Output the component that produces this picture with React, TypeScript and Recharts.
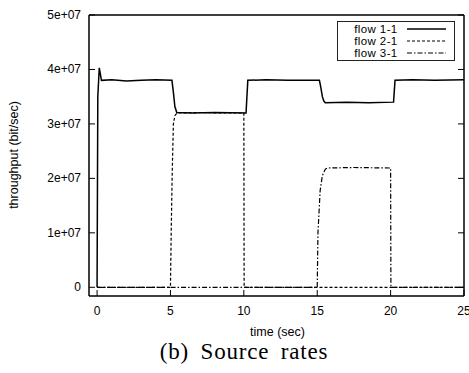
import { Line, LineChart, XAxis, YAxis } from 'recharts'

const flow1Time = [0, 0.05, 0.15, 0.3, 1, 2, 3, 4, 5.1, 5.2, 5.3, 5.43, 6.5, 8, 10.15, 10.27, 11.5, 13, 15.15, 15.25, 15.35, 15.45, 15.55, 17, 18.5, 20.2, 20.3, 21.5, 23, 25]
const flow1Rate = [0, 3.5e7, 4.03e7, 3.8e7, 3.81e7, 3.79e7, 3.8e7, 3.81e7, 3.8e7, 3.58e7, 3.32e7, 3.21e7, 3.2e7, 3.21e7, 3.2e7, 3.8e7, 3.81e7, 3.8e7, 3.8e7, 3.66e7, 3.5e7, 3.42e7, 3.39e7, 3.4e7, 3.39e7, 3.4e7, 3.8e7, 3.81e7, 3.8e7, 3.81e7]

const flow2Time = [0, 5.0, 5.05, 5.12, 5.2, 5.3, 5.45, 7, 8.5, 10.0, 10.02, 25]
const flow2Rate = [0, 0, 1.0e7, 2.1e7, 3.0e7, 3.15e7, 3.2e7, 3.21e7, 3.2e7, 3.2e7, 0, 0]

const flow3Time = [0, 15.0, 15.05, 15.2, 15.35, 15.55, 15.7, 17.5, 20.0, 20.02, 25]
const flow3Rate = [0, 0, 1.0e7, 1.78e7, 2.05e7, 2.17e7, 2.19e7, 2.2e7, 2.19e7, 0, 0]

const xTicks = [0, 5, 10, 15, 20, 25]
const yTicks = [0, 1e7, 2e7, 3e7, 4e7, 5e7]

const series = [
  { name: 'flow 1-1', time: flow1Time, rate: flow1Rate, dash: undefined, width: 1.5 },
  { name: 'flow 2-1', time: flow2Time, rate: flow2Rate, dash: '3 2', width: 1.2 },
  { name: 'flow 3-1', time: flow3Time, rate: flow3Rate, dash: '5 2 1.5 2', width: 1.2 },
]

const FONT = '"Liberation Sans", Arial, sans-serif'
const TICK = 6
const MARGIN = 8
const AXIS = { stroke: '#000', strokeWidth: 1.5 }

const fmtY = (v: number) => (v === 0 ? '0' : `${v / 1e7}e+07`)

function LeftTick(props: any) {
  const { x, y, payload } = props
  const ax = x + MARGIN
  return (
    <g>
      <line x1={ax} x2={ax + TICK} y1={y} y2={y} stroke="#000" strokeWidth={1} />
      <text x={x} y={y} dy={4} textAnchor="end" fontSize={12} fontFamily={FONT} fill="#000">
        {fmtY(payload.value)}
      </text>
    </g>
  )
}

function BottomTick(props: any) {
  const { x, y, payload } = props
  const ay = y - MARGIN
  return (
    <g>
      <line x1={x} x2={x} y1={ay} y2={ay - TICK} stroke="#000" strokeWidth={1} />
      <text x={x} y={y} dy={11} textAnchor="middle" fontSize={12} fontFamily={FONT} fill="#000">
        {payload.value}
      </text>
    </g>
  )
}

function RightTick(props: any) {
  const { x, y } = props
  return <line x1={x - TICK} x2={x} y1={y} y2={y} stroke="#000" strokeWidth={1} />
}

function TopTick(props: any) {
  const { x, y } = props
  return <line x1={x} x2={x} y1={y} y2={y + TICK} stroke="#000" strokeWidth={1} />
}

function LegendBox() {
  return (
    <div
      style={{
        position: 'absolute',
        left: 337,
        top: 21,
        width: 116,
        height: 37,
        border: '1.5px solid #222',
        background: '#fff',
        fontFamily: FONT,
        fontSize: 11.5,
        paddingTop: 0.5,
      }}
    >
      {series.map((s) => (
        <div key={s.name} style={{ display: 'flex', alignItems: 'center', height: 12.4 }}>
          <span style={{ width: 63, textAlign: 'right', lineHeight: '12px', letterSpacing: 0.4 }}>{s.name}</span>
          <svg width={50} height={10} style={{ marginLeft: 9 }}>
            <line x1={0} x2={39} y1={5} y2={5} stroke="#000" strokeWidth={s.width} strokeDasharray={s.dash} />
          </svg>
        </div>
      ))}
    </div>
  )
}

export default function App() {
  return (
    <div style={{ position: 'absolute', left: 0, top: 0, width: 469, height: 373, background: '#fff' }}>
      <LineChart width={469} height={373} margin={{ top: 14, right: 4, bottom: 76, left: 88 }}>
        <XAxis
          type="number"
          dataKey="t"
          domain={[-0.55, 25]}
          ticks={xTicks}
          allowDataOverflow
          height={1}
          tickSize={0}
          tickMargin={MARGIN}
          tick={<BottomTick />}
          axisLine={AXIS}
          interval={0}
        />
        <XAxis
          xAxisId="top"
          orientation="top"
          type="number"
          domain={[-0.55, 25]}
          ticks={xTicks}
          allowDataOverflow
          height={1}
          tickSize={0}
          tickMargin={0}
          tick={<TopTick />}
          axisLine={AXIS}
          interval={0}
        />
        <YAxis
          type="number"
          domain={[-1.6e6, 5e7]}
          ticks={yTicks}
          allowDataOverflow
          width={1}
          tickSize={0}
          tickMargin={MARGIN}
          tick={<LeftTick />}
          axisLine={AXIS}
          interval={0}
        />
        <YAxis
          yAxisId="right"
          orientation="right"
          type="number"
          domain={[-1.6e6, 5e7]}
          ticks={yTicks}
          allowDataOverflow
          width={1}
          tickSize={0}
          tickMargin={0}
          tick={<RightTick />}
          axisLine={AXIS}
          interval={0}
        />
        {series.map((s) => (
          <Line
            key={s.name}
            name={s.name}
            data={s.time.map((t, i) => ({ t, rate: s.rate[i] }))}
            dataKey="rate"
            type="linear"
            stroke="#000"
            strokeWidth={s.width}
            strokeDasharray={s.dash}
            dot={false}
            activeDot={false}
            isAnimationActive={false}
          />
        ))}
      </LineChart>
      <LegendBox />
      <div
        style={{
          position: 'absolute',
          left: 0,
          width: 555,
          top: 325,
          textAlign: 'center',
          fontFamily: FONT,
          fontSize: 12.5,
        }}
      >
        time (sec)
      </div>
      <div
        style={{
          position: 'absolute',
          left: 14,
          top: 155,
          transform: 'translate(-50%, -50%) rotate(-90deg)',
          whiteSpace: 'nowrap',
          fontFamily: FONT,
          fontSize: 12.5,
        }}
      >
        throughput (bit/sec)
      </div>
      <div
        style={{
          position: 'absolute',
          left: 0,
          width: 488,
          top: 339,
          textAlign: 'center',
          fontFamily: '"Liberation Serif", "Times New Roman", serif',
          fontSize: 23,
          letterSpacing: 0.8,
          wordSpacing: 5,
        }}
      >
        (b) Source rates
      </div>
    </div>
  )
}
